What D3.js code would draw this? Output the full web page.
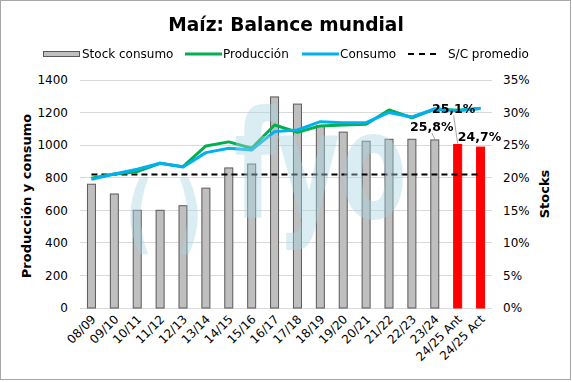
<!DOCTYPE html>
<html><head><meta charset="utf-8">
<script src="https://cdn.jsdelivr.net/npm/d3@7"></script>
<style>body{margin:0;background:#fff}svg{display:block;font-family:"DejaVu Sans",Verdana,sans-serif}</style>
</head><body><svg id="c" width="572" height="382"></svg>
<script>
const categories = ["08/09","09/10","10/11","11/12","12/13","13/14","14/15","15/16","16/17","17/18","18/19","19/20","20/21","21/22","22/23","23/24","24/25 Ant","24/25 Act"];
const stockRatio = [19.0,17.5,15.0,15.0,15.7,18.4,21.5,22.1,32.4,31.3,28.0,27.0,25.6,25.9,25.9,25.8,25.1,24.7];
const produccion = [797,823,837,889,868,995,1020,981,1124,1079,1118,1124,1128,1216,1168,1222,1215,1225];
const consumo    = [791,823,852,889,866,954,981,970,1083,1093,1144,1138,1138,1201,1173,1222,1211,1226];
const scPromedio = 20.5;
const leftTicks = [0,200,400,600,800,1000,1200,1400];
const rightTicks = [0,5,10,15,20,25,30,35];
const highlighted = ["24/25 Ant","24/25 Act"];
const labelled = {"23/24":"25,8%","24/25 Ant":"25,1%","24/25 Act":"24,7%"};

const svg = d3.select("#c");
svg.append("rect").attr("x",0.5).attr("y",0.5).attr("width",570).attr("height",379)
  .attr("fill","#fff").attr("stroke","#a6a6a6");

const x = d3.scaleBand().domain(categories).range([80,492]);
const yL = d3.scaleLinear().domain([0,1400]).range([308,80]);
const yR = d3.scaleLinear().domain([0,35]).range([308,80]);
const cx = c => x(c) + x.bandwidth()/2;

// gridlines
svg.append("g").selectAll("line").data(leftTicks).join("line")
  .attr("x1",80).attr("x2",492).attr("y1",d=>yL(d)).attr("y2",d=>yL(d))
  .attr("stroke","#d9d9d9").attr("stroke-width",1).attr("shape-rendering","crispEdges");

// axes
const gl = svg.append("g").attr("transform","translate(80,0)")
  .call(d3.axisLeft(yL).tickValues(leftTicks).tickSize(0).tickPadding(12).tickFormat(d3.format("d")));
gl.select(".domain").remove();
gl.selectAll("text").attr("font-size",12).attr("fill","#000").attr("font-family","DejaVu Sans");
const gr = svg.append("g").attr("transform","translate(492,0)")
  .call(d3.axisRight(yR).tickValues(rightTicks).tickSize(0).tickPadding(11).tickFormat(d=>d+"%"));
gr.select(".domain").remove();
gr.selectAll("text").attr("font-size",12).attr("fill","#000").attr("font-family","DejaVu Sans");

const gx = svg.append("g").attr("transform","translate(0,308)")
  .call(d3.axisBottom(x).tickSize(0));
gx.select(".domain").remove();
gx.selectAll("text").attr("font-size",12).attr("fill","#000").attr("font-family","DejaVu Sans")
  .attr("text-anchor","end").attr("dy",null).attr("y",0)
  .attr("transform","translate(5,12) rotate(-45)");

// bars
const bw = 8;
svg.append("g").selectAll("rect").data(categories).join("rect")
  .attr("x",c=>cx(c)-bw/2).attr("width",bw)
  .attr("y",(c,i)=>yR(stockRatio[i])).attr("height",(c,i)=>yR(0)-yR(stockRatio[i]))
  .attr("fill",c=>highlighted.includes(c)?"#ff0000":"#bfbfbf")
  .attr("stroke",c=>highlighted.includes(c)?"#ff0000":"#595959").attr("stroke-width",1);

// average dashed
svg.append("line").attr("x1",cx(categories[0])).attr("x2",cx(categories[categories.length-1]))
  .attr("y1",yR(scPromedio)).attr("y2",yR(scPromedio))
  .attr("stroke","#000").attr("stroke-width",2).attr("stroke-dasharray","6,4");

// lines
const line = arr => d3.line().x((d,i)=>cx(categories[i])).y(d=>yL(d))(arr);
svg.append("path").attr("d",line(produccion)).attr("fill","none").attr("stroke","#00b050").attr("stroke-width",3).attr("stroke-linejoin","round");
svg.append("path").attr("d",line(consumo)).attr("fill","none").attr("stroke","#00b0f0").attr("stroke-width",3).attr("stroke-linejoin","round");

// watermark
const wm = svg.append("g").attr("fill","#a8d3e3").attr("opacity",0.42).attr("font-family","DejaVu Sans").attr("font-weight","bold");
wm.append("text").attr("transform","translate(125,243) scale(0.72,1)").attr("font-size",86).text("( )");
wm.append("text").attr("transform","translate(234,218) scale(0.65,1)").attr("font-size",150).text("fyo");

// data labels
const lblOff = {"23/24":[-3,-9],"24/25 Ant":[-4,-31],"24/25 Act":[-1,-6]};
Object.keys(labelled).forEach(c=>{
  const i = categories.indexOf(c);
  const bx = cx(c), by = yR(stockRatio[i]);
  const [dx,dy] = lblOff[c];
  if (c!=="24/25 Act") {
    svg.append("line").attr("x1",bx).attr("y1",by-1).attr("x2",bx+dx).attr("y2",by+dy+2)
      .attr("stroke","#a6a6a6").attr("stroke-width",1);
  }
  svg.append("text").attr("x",bx+dx).attr("y",by+dy).attr("text-anchor","middle")
    .attr("font-size",12.5).attr("font-weight","bold").attr("fill","#000").text(labelled[c]);
});

// titles
svg.append("text").attr("x",286).attr("y",31).attr("text-anchor","middle")
  .attr("font-size",18.6).attr("font-weight","bold").text("Maíz: Balance mundial");
svg.append("text").attr("transform","translate(31,196) rotate(-90)").attr("text-anchor","middle")
  .attr("font-size",13).attr("font-weight","bold").text("Producción y consumo");
svg.append("text").attr("transform","translate(549,194) rotate(-90)").attr("text-anchor","middle")
  .attr("font-size",13).attr("font-weight","bold").text("Stocks");

// legend
const lg = svg.append("g").attr("font-size",12);
lg.append("rect").attr("x",43.5).attr("y",51.5).attr("width",36).attr("height",5).attr("fill","#bfbfbf").attr("stroke","#595959");
lg.append("text").attr("x",82).attr("y",58).text("Stock consumo");
lg.append("line").attr("x1",185).attr("x2",222).attr("y1",54).attr("y2",54).attr("stroke","#00b050").attr("stroke-width",3);
lg.append("text").attr("x",223).attr("y",58).text("Producción");
lg.append("line").attr("x1",302).attr("x2",339).attr("y1",54).attr("y2",54).attr("stroke","#00b0f0").attr("stroke-width",3);
lg.append("text").attr("x",340).attr("y",58).text("Consumo");
lg.append("line").attr("x1",408).attr("x2",436).attr("y1",54).attr("y2",54).attr("stroke","#000").attr("stroke-width",2).attr("stroke-dasharray","6,5");
lg.append("text").attr("x",448).attr("y",58).text("S/C promedio");
</script></body></html>
